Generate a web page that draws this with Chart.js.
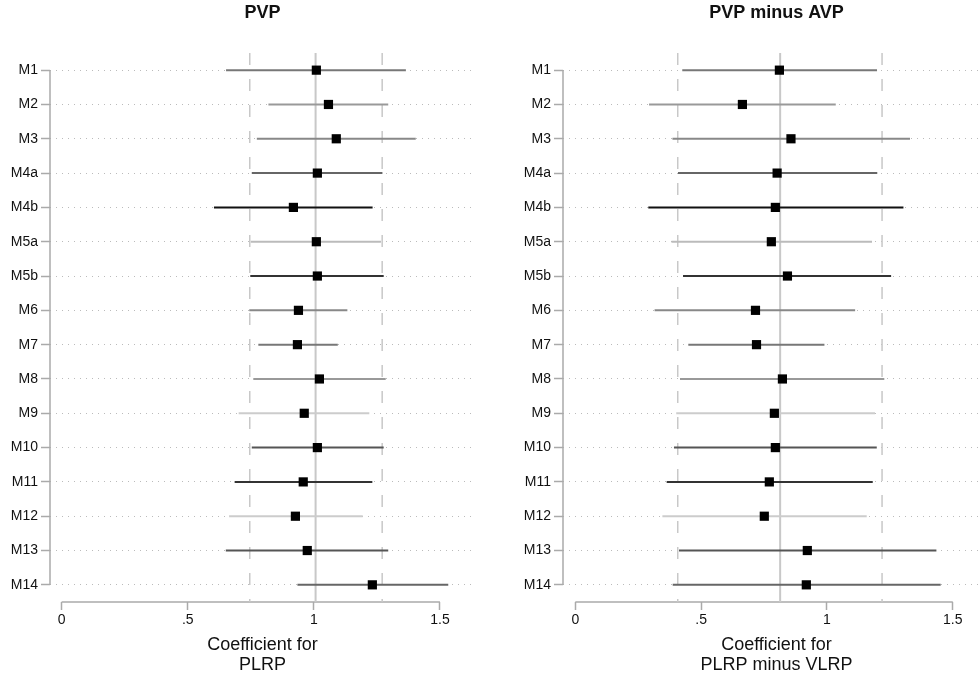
<!DOCTYPE html>
<html>
<head>
  <title>PVP coefficients by model</title>
  <script src="https://cdn.jsdelivr.net/npm/chart.js"></script>
  <style>
    html, body { margin: 0; padding: 0; background: #fff; overflow: hidden; }
    .panel { position: absolute; top: 0; }
  </style>
</head>
<body>
  <canvas id="pvp-chart" class="panel" width="490" height="679" style="left:0"></canvas>
  <canvas id="diff-chart" class="panel" width="510" height="679" style="left:490px"></canvas>
  <script>
    const models = ["M1", "M2", "M3", "M4a", "M4b", "M5a", "M5b", "M6", "M7", "M8", "M9", "M10", "M11", "M12", "M13", "M14"];
    const xTicks = [0, 0.5, 1, 1.5];
    const xTickLabels = ["0", ".5", "1", "1.5"];
    // grey level of each model's CI line (same in both panels)
    const shades = ["#777", "#999", "#888", "#666", "#111", "#bbb", "#333", "#888", "#777", "#999", "#ccc", "#555", "#333", "#ccc", "#555", "#666"];

    // left panel: PVP
    const pvpEst = [1.010, 1.058, 1.089, 1.014, 0.919, 1.010, 1.014, 0.939, 0.935, 1.022, 0.962, 1.014, 0.958, 0.927, 0.974, 1.232];
    const pvpLow = [0.652, 0.820, 0.774, 0.754, 0.604, 0.750, 0.748, 0.744, 0.780, 0.760, 0.702, 0.754, 0.686, 0.664, 0.651, 0.935];
    const pvpHigh = [1.365, 1.295, 1.404, 1.272, 1.233, 1.266, 1.277, 1.133, 1.095, 1.285, 1.220, 1.277, 1.232, 1.194, 1.295, 1.533];
    const pvpMean = 1.007;
    const pvpBand = [0.746, 1.271];

    // right panel: PVP minus AVP
    const diffEst = [0.811, 0.664, 0.857, 0.802, 0.795, 0.779, 0.843, 0.716, 0.720, 0.823, 0.791, 0.795, 0.771, 0.751, 0.922, 0.918];
    const diffLow = [0.425, 0.293, 0.386, 0.408, 0.290, 0.382, 0.428, 0.315, 0.449, 0.416, 0.401, 0.392, 0.363, 0.346, 0.412, 0.387];
    const diffHigh = [1.199, 1.035, 1.330, 1.200, 1.304, 1.179, 1.255, 1.112, 0.990, 1.228, 1.191, 1.198, 1.182, 1.158, 1.435, 1.452];
    const diffMean = 0.814;
    const diffBand = [0.407, 1.219];

    Chart.defaults.font.family = '"Liberation Sans", Arial, sans-serif';
    Chart.defaults.color = "#111";

    // stata style axis lines: only from first to last tick
    const stataAxes = {
      id: "stataAxes",
      beforeDatasetsDraw(chart) {
        const { ctx, chartArea, scales: { x, y } } = chart;
        ctx.save();
        ctx.strokeStyle = "#aaa";
        ctx.lineWidth = 1.5;
        ctx.beginPath();
        ctx.moveTo(chartArea.left, y.getPixelForValue(0));
        ctx.lineTo(chartArea.left, y.getPixelForValue(models.length - 1));
        ctx.moveTo(x.getPixelForValue(xTicks[0]), chartArea.bottom);
        ctx.lineTo(x.getPixelForValue(xTicks[xTicks.length - 1]), chartArea.bottom);
        ctx.stroke();
        ctx.restore();
      }
    };

    // title centred over the plot region
    const panelTitle = {
      id: "panelTitle",
      afterDraw(chart, args, opts) {
        const { ctx, chartArea } = chart;
        ctx.save();
        ctx.font = 'bold 18px "Liberation Sans", Arial, sans-serif';
        ctx.fillStyle = "#111";
        ctx.textAlign = "center";
        ctx.textBaseline = "middle";
        ctx.fillText(opts.text, (chartArea.left + chartArea.right) / 2, 13);
        ctx.restore();
      }
    };

    function buildDatasets(est, low, high, mean, band) {
      const sets = [{
        label: "estimate",
        data: est.map((v, i) => ({ x: v, y: i })),
        pointStyle: "rect",
        pointRadius: 6.5,
        pointHoverRadius: 6.5,
        backgroundColor: "#000",
        borderWidth: 0,
        order: 0
      }];
      models.forEach((m, i) => {
        sets.push({
          label: m,
          data: [{ x: low[i], y: i }, { x: high[i], y: i }],
          showLine: true,
          borderColor: shades[i],
          borderWidth: 2,
          pointRadius: 0,
          order: 1
        });
      });
      [mean].concat(band).forEach((v, k) => {
        sets.push({
          label: k === 0 ? "mean" : "band",
          data: [{ x: v, y: -0.5 }, { x: v, y: models.length - 0.5 }],
          showLine: true,
          borderColor: "#c8c8c8",
          borderWidth: k === 0 ? 2 : 1.5,
          borderDash: k === 0 ? [] : [12, 14],
          pointRadius: 0,
          order: 2
        });
      });
      return sets;
    }

    function makePanel(id, title, xTitle, est, low, high, mean, band, xMin, xMax, yWidth, rightPad) {
      new Chart(document.getElementById(id), {
        type: "scatter",
        data: { datasets: buildDatasets(est, low, high, mean, band) },
        options: {
          responsive: false,
          animation: false,
          layout: { padding: { top: 53, right: rightPad, left: 0, bottom: 0 } },
          plugins: {
            legend: { display: false },
            tooltip: { enabled: false },
            panelTitle: { text: title }
          },
          scales: {
            x: {
              type: "linear",
              min: xMin,
              max: xMax,
              afterBuildTicks: s => { s.ticks = xTicks.map(v => ({ value: v })); },
              afterFit: s => { s.height = 77; },
              ticks: {
                callback: v => xTickLabels[xTicks.indexOf(v)],
                font: { size: 14 },
                padding: 2,
                maxRotation: 0
              },
              grid: { drawOnChartArea: false, drawTicks: true, tickLength: 8, tickColor: "#aaa", tickWidth: 1.5 },
              border: { display: false },
              title: {
                display: true,
                text: xTitle,
                font: { size: 18, lineHeight: 1.1 },
                padding: { top: 0, bottom: 4 }
              }
            },
            y: {
              type: "linear",
              min: -0.5,
              max: models.length - 0.5,
              reverse: true,
              afterBuildTicks: s => { s.ticks = models.map((m, i) => ({ value: i })); },
              afterFit: s => { s.width = yWidth; },
              ticks: {
                callback: v => models[v],
                autoSkip: false,
                font: { size: 14 },
                padding: 3
              },
              grid: { color: "#bbb", lineWidth: 1, drawTicks: true, tickLength: 9, tickColor: "#aaa", tickWidth: 1.5 },
              border: { display: false, dash: [1, 5] }
            }
          }
        },
        plugins: [stataAxes, panelTitle]
      });
    }

    makePanel("pvp-chart", "PVP", ["Coefficient for", "PLRP"],
      pvpEst, pvpLow, pvpHigh, pvpMean, pvpBand, -0.046, 1.639, 50, 15);
    makePanel("diff-chart", "PVP minus AVP", ["Coefficient for", "PLRP minus VLRP"],
      diffEst, diffLow, diffHigh, diffMean, diffBand, -0.049, 1.648, 73, 10);
  </script>
</body>
</html>
